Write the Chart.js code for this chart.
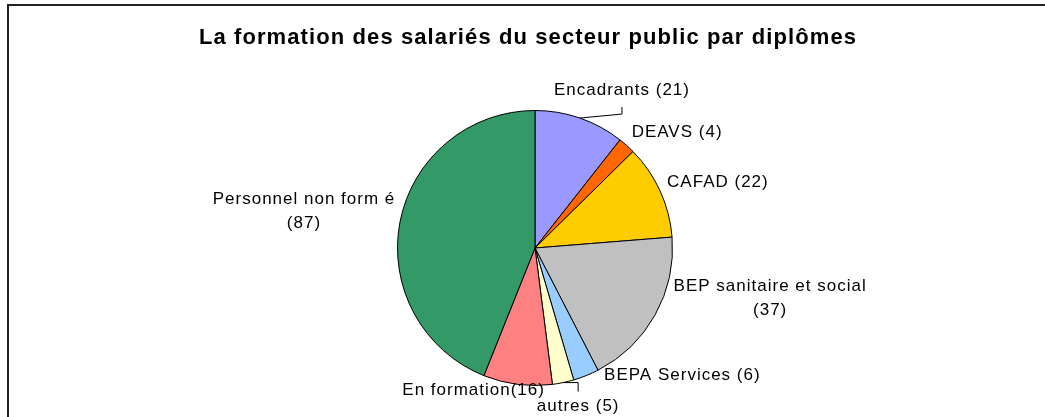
<!DOCTYPE html>
<html>
<head>
<meta charset="utf-8">
<script src="https://cdn.jsdelivr.net/npm/chart.js@4"></script>
<style>
  html, body { margin: 0; padding: 0; background: #fff; overflow: hidden; }
  #wrap { position: relative; width: 1045px; height: 417px; }
  #frame { position: absolute; left: 7px; top: 4px; width: 1100px; height: 500px;
           border-left: 2px solid #222; border-top: 2px solid #222; }
  canvas { position: absolute; left: 0; top: 0; }
</style>
</head>
<body>
<div id="wrap">
  <div id="frame"></div>
  <canvas id="chartDiplomes" width="1045" height="417"></canvas>
</div>
<script>
const titre = "La formation des salariés du secteur public par diplômes";

const categories = [
  "Encadrants",
  "DEAVS",
  "CAFAD",
  "BEP sanitaire et social",
  "BEPA Services",
  "autres",
  "En formation",
  "Personnel non formé",
];

const effectifs = [21, 4, 22, 37, 6, 5, 16, 87];

const etiquettes = [
  ["Encadrants (21)"],
  ["DEAVS (4)"],
  ["CAFAD (22)"],
  ["BEP sanitaire et social", "(37)"],
  ["BEPA Services (6)"],
  ["autres (5)"],
  ["En formation(16)"],
  ["Personnel non form é", "(87)"],
];

const couleurs = [
  "#9999ff",
  "#ff6600",
  "#ffcc00",
  "#c0c0c0",
  "#99ccff",
  "#ffffcc",
  "#ff8080",
  "#339966",
];

// placement of each label relative to the outer edge of its slice
const placement = [
  { dx: 42, dy: -28, align: "center", leader: true },
  { dx: 5, dy: -13, align: "left" },
  { dx: 7, dy: -9, align: "left" },
  { dx: 115, dy: -17, align: "center" },
  { dx: 18, dy: 0, align: "left" },
  { dx: 15, dy: 24, align: "center", leader: true },
  { dx: -44, dy: 6, align: "center" },
  { dx: -96, dy: -11, align: "center" },
];

const fontFamily = "'Liberation Sans', Arial, sans-serif";
const lineHeight = 24;

const titrePlugin = {
  id: "titre",
  afterDraw(chart) {
    const ctx = chart.ctx;
    ctx.save();
    ctx.font = "bold 22px " + fontFamily;
    ctx.letterSpacing = "1.1px";
    ctx.fillStyle = "#000";
    ctx.textAlign = "center";
    ctx.textBaseline = "middle";
    ctx.fillText(titre, 528, 38);
    ctx.restore();
  },
};

const etiquettesPlugin = {
  id: "etiquettes",
  afterDatasetsDraw(chart) {
    const ctx = chart.ctx;
    const meta = chart.getDatasetMeta(0);
    ctx.save();
    ctx.font = "17px " + fontFamily;
    ctx.letterSpacing = "1px";
    ctx.fillStyle = "#000";
    ctx.textBaseline = "middle";
    meta.data.forEach((arc, i) => {
      const p = arc.getProps(["x", "y", "startAngle", "endAngle", "outerRadius"], true);
      const mid = (p.startAngle + p.endAngle) / 2;
      const ex = p.x + Math.cos(mid) * p.outerRadius;
      const ey = p.y + Math.sin(mid) * p.outerRadius;
      const pl = placement[i];
      const lx = ex + pl.dx;
      const ly = ey + pl.dy;
      const lines = etiquettes[i];
      const top = ly - ((lines.length - 1) * lineHeight) / 2;

      if (pl.leader) {
        ctx.strokeStyle = "#000";
        ctx.lineWidth = 1;
        ctx.beginPath();
        ctx.moveTo(ex, ey);
        if (pl.dy < 0) {
          ctx.lineTo(lx, ly + 24);
          ctx.lineTo(lx, ly + 17);
        } else {
          ctx.lineTo(lx, ly - 24);
          ctx.lineTo(lx, ly - 15);
        }
        ctx.stroke();
      }

      ctx.textAlign = pl.align;
      lines.forEach((t, k) => {
        ctx.fillText(t, lx, top + k * lineHeight);
      });
    });
    ctx.restore();
  },
};

new Chart(document.getElementById("chartDiplomes"), {
  type: "pie",
  data: {
    labels: categories,
    datasets: [
      {
        data: effectifs,
        backgroundColor: couleurs,
        borderColor: "#000",
        borderWidth: 1,
      },
    ],
  },
  options: {
    responsive: false,
    animation: false,
    layout: {
      padding: { left: 397, right: 372, top: 110, bottom: 31 },
    },
    plugins: {
      legend: { display: false },
      tooltip: { enabled: false },
      title: { display: false },
    },
  },
  plugins: [etiquettesPlugin, titrePlugin],
});
</script>
</body>
</html>
